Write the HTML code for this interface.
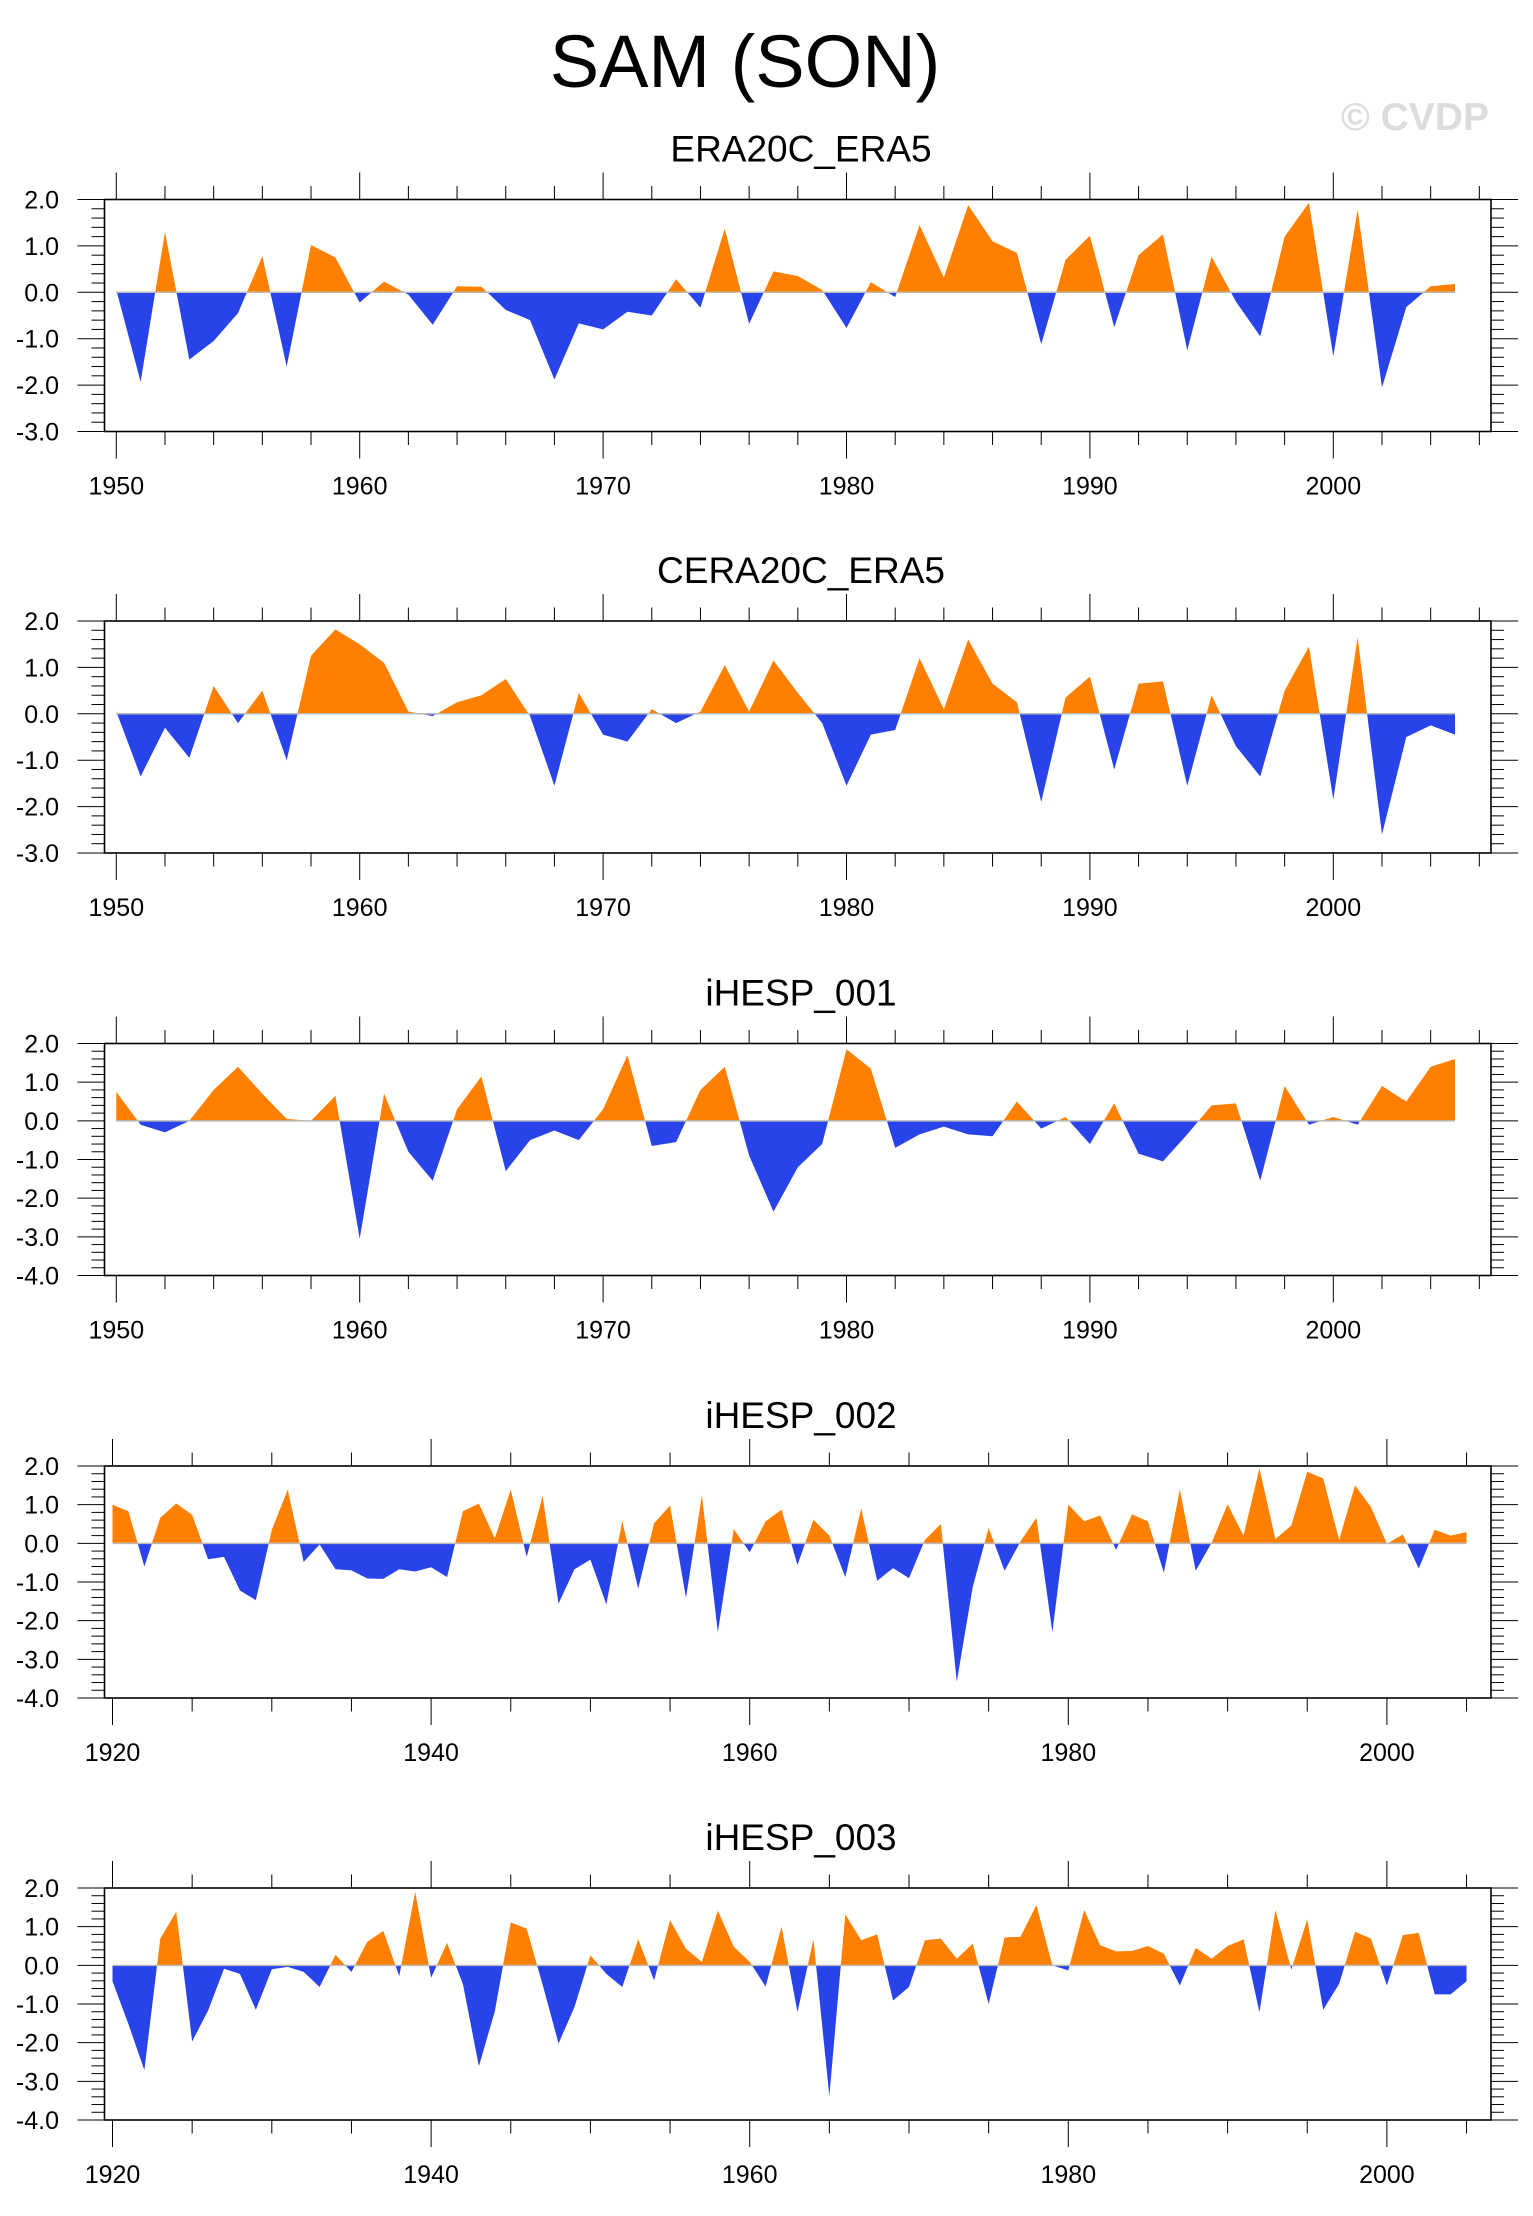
<!DOCTYPE html>
<html><head><meta charset="utf-8"><title>SAM (SON)</title>
<style>
html,body{margin:0;padding:0;background:#fff;}
svg text{font-family:"Liberation Sans",Arial,sans-serif;}
</style></head>
<body>
<svg id="chart" xmlns="http://www.w3.org/2000/svg" width="1533" height="2211" viewBox="0 0 1533 2211">
<rect x="0" y="0" width="1533" height="2211" fill="#fff"/>
<text x="745" y="87" font-size="74" text-anchor="middle" fill="#000">SAM (SON)</text>
<text x="1415" y="130" font-size="39" font-weight="bold" text-anchor="middle" fill="#dcdcdc">© CVDP</text>
<g id="panels"></g>
</svg>
<script>
// ---- data ----
const titles = ["ERA20C_ERA5","CERA20C_ERA5","iHESP_001","iHESP_002","iHESP_003"];
const startYears = [1950,1950,1950,1920,1920];
const yMins = [-3,-3,-4,-4,-4];
const yMaxs = [2,2,2,2,2];
const era20c = [0.05,-1.93,1.3,-1.45,-1.05,-0.45,0.78,-1.6,1.02,0.75,-0.22,0.23,-0.05,-0.7,0.13,0.12,-0.38,-0.6,-1.88,-0.67,-0.8,-0.42,-0.5,0.28,-0.33,1.37,-0.68,0.45,0.35,0.05,-0.77,0.22,-0.1,1.45,0.32,1.88,1.1,0.85,-1.12,0.7,1.22,-0.75,0.8,1.25,-1.25,0.77,-0.2,-0.95,1.2,1.93,-1.38,1.78,-2.05,-0.32,0.13,0.18];
const cera20c = [0.05,-1.35,-0.3,-0.95,0.6,-0.2,0.5,-1.0,1.25,1.82,1.5,1.1,0.05,-0.05,0.25,0.4,0.75,-0.05,-1.55,0.45,-0.45,-0.6,0.1,-0.2,0.05,1.05,0.05,1.15,0.45,-0.2,-1.55,-0.45,-0.35,1.2,0.1,1.6,0.65,0.25,-1.9,0.35,0.8,-1.2,0.65,0.7,-1.55,0.4,-0.7,-1.35,0.5,1.45,-1.85,1.65,-2.6,-0.5,-0.25,-0.45];
const ihesp001 = [0.75,-0.1,-0.3,0.0,0.8,1.4,0.7,0.05,0.0,0.65,-3.05,0.7,-0.8,-1.55,0.3,1.15,-1.3,-0.5,-0.25,-0.5,0.3,1.7,-0.65,-0.55,0.8,1.4,-0.9,-2.35,-1.2,-0.6,1.85,1.35,-0.7,-0.35,-0.15,-0.35,-0.4,0.5,-0.2,0.1,-0.6,0.45,-0.85,-1.05,-0.35,0.4,0.45,-1.55,0.9,-0.1,0.1,-0.1,0.9,0.5,1.4,1.6];
const ihesp002 = [1.0,0.83,-0.6,0.66,1.03,0.74,-0.41,-0.35,-1.22,-1.47,0.35,1.39,-0.48,-0.03,-0.67,-0.7,-0.91,-0.92,-0.67,-0.73,-0.62,-0.87,0.83,1.03,0.13,1.39,-0.35,1.22,-1.56,-0.67,-0.42,-1.58,0.57,-1.17,0.52,0.98,-1.41,1.24,-2.3,0.37,-0.23,0.57,0.87,-0.56,0.61,0.2,-0.87,0.9,-0.97,-0.64,-0.9,0.09,0.5,-3.58,-1.13,0.4,-0.71,0.05,0.66,-2.3,1.0,0.57,0.72,-0.17,0.75,0.57,-0.76,1.39,-0.71,0.02,1.01,0.2,1.94,0.11,0.46,1.85,1.68,0.09,1.5,0.94,-0.01,0.23,-0.65,0.35,0.2,0.29];
const ihesp003 = [-0.41,-1.52,-2.71,0.69,1.39,-1.97,-1.17,-0.09,-0.22,-1.15,-0.1,-0.04,-0.17,-0.56,0.27,-0.17,0.61,0.89,-0.28,1.9,-0.32,0.58,-0.49,-2.61,-1.19,1.11,0.95,-0.5,-2.02,-1.08,0.26,-0.22,-0.56,0.67,-0.39,1.17,0.43,0.09,1.41,0.48,0.09,-0.55,1.0,-1.21,0.67,-3.38,1.32,0.65,0.8,-0.91,-0.56,0.65,0.69,0.17,0.56,-1.0,0.72,0.74,1.56,0.0,-0.13,1.43,0.52,0.36,0.37,0.5,0.3,-0.52,0.45,0.17,0.5,0.67,-1.21,1.43,-0.11,1.19,-1.15,-0.48,0.87,0.69,-0.52,0.78,0.84,-0.75,-0.75,-0.41];
const series = [era20c,cera20c,ihesp001,ihesp002,ihesp003];
const yTickVals = [2,1,0,-1,-2,-3,-4];

// ---- layout ----
const NS="http://www.w3.org/2000/svg";
const panelTops=[199.5,621,1043.5,1466,1888];
const boxL=104.5, boxR=1491, boxH=232;
const root=document.getElementById('panels');
function mk(tag,attrs,parent){const e=document.createElementNS(NS,tag);for(const k in attrs)e.setAttribute(k,attrs[k]);(parent||root).appendChild(e);return e;}

series.forEach((vals,p)=>{
  const top=panelTops[p], bot=top+boxH;
  const y0=startYears[p];
  let xs, majorStep, minorStep;
  if(y0===1950){ xs=y=>116.3+(y-1950)*24.34; majorStep=10; minorStep=2; }
  else { xs=y=>112.5+(y-1920)*15.93; majorStep=20; minorStep=5; }
  const ymin=yMins[p], ymax=yMaxs[p];
  const ys=v=>top+(ymax-v)/(ymax-ymin)*boxH;
  const g=mk('g',{});
  
  
  const t=mk('text',{x:801,y:top-38,'font-size':37,'text-anchor':'middle',fill:'#000'},g);
  t.textContent=titles[p];
  
  
  const cid='clip'+p;
  const defs=mk('defs',{},g);
  const cpU=mk('clipPath',{id:cid+'u'},defs); mk('rect',{x:boxL,y:top,width:boxR-boxL,height:ys(0)-top},cpU);
  const cpD=mk('clipPath',{id:cid+'d'},defs); mk('rect',{x:boxL,y:ys(0),width:boxR-boxL,height:bot-ys(0)},cpD);
  let d='M'+xs(y0)+','+ys(0);
  vals.forEach((v,i)=>{d+=' L'+xs(y0+i).toFixed(2)+','+ys(v).toFixed(2);});
  d+=' L'+xs(y0+vals.length-1)+','+ys(0)+' Z';
  const pos=mk('path',{d:d,fill:'#ff8000','clip-path':'url(#'+cid+'u)'},g);
  
  
  const neg=mk('path',{d:d,fill:'#2943eb','clip-path':'url(#'+cid+'d)'},g);
  
  
  const zl=mk('line',{x1:xs(y0),x2:xs(y0+vals.length-1),y1:ys(0),y2:ys(0),stroke:'#bbb','stroke-width':1.5},g);
  
  
  const box=mk('rect',{x:boxL,y:top,width:boxR-boxL,height:boxH,fill:'none',stroke:'#000','stroke-width':1.6},g);
  
  
  const yEnd=2006;
  for(let y=y0;y<=yEnd;y+=minorStep){
    const x=xs(y), major=(y%majorStep===0);
    const L=major?27:13.5;
    mk('line',{x1:x,x2:x,y1:top,y2:top-L,stroke:'#000','stroke-width':1},g);
    mk('line',{x1:x,x2:x,y1:bot,y2:bot+L,stroke:'#000','stroke-width':1},g);
    if(major){
      const lb=mk('text',{x:x,y:bot+63,'font-size':25,'text-anchor':'middle',fill:'#000'},g);
      lb.textContent=y;
      
      
    }
  }
  for(let k=Math.round(ymin*5);k<=Math.round(ymax*5);k++){
    const v=k/5, yy=ys(v), major=(k%5===0);
    const L=major?27:13;
    mk('line',{x1:boxL,x2:boxL-L,y1:yy,y2:yy,stroke:'#000','stroke-width':1},g);
    mk('line',{x1:boxR,x2:boxR+L,y1:yy,y2:yy,stroke:'#000','stroke-width':1},g);
  }
  yTickVals.filter(v=>v>=ymin&&v<=ymax).forEach(v=>{
    const lb=mk('text',{x:59,y:ys(v)+9,'font-size':25,'text-anchor':'end',fill:'#000'},g);
    lb.textContent=v.toFixed(1);
    
    
  });
});
</script>
</body></html>
